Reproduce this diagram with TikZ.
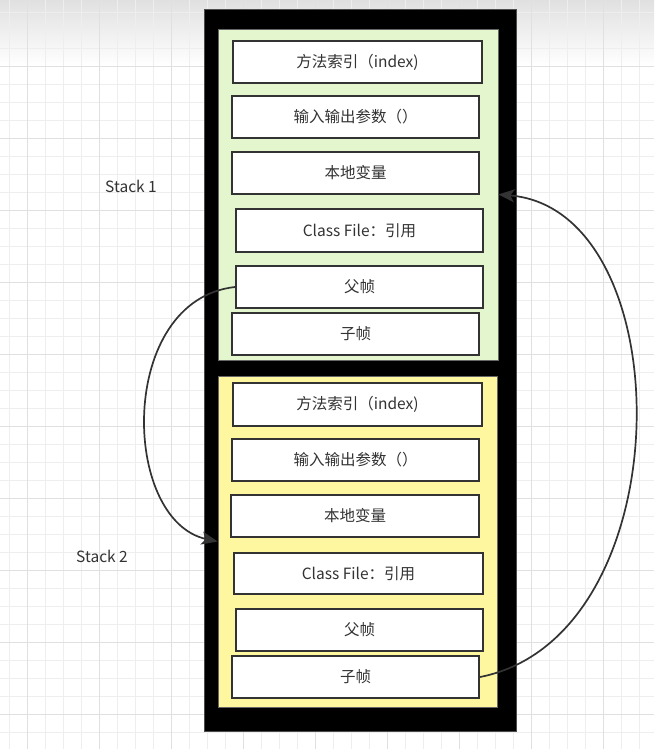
\documentclass[tikz,border=0pt]{standalone}
\usepackage{fontspec}
\setmainfont{Noto Sans CJK SC}
\usetikzlibrary{arrows.meta,positioning}
\definecolor{txt}{HTML}{333333}
\definecolor{gridminor}{HTML}{EEEEEE}
\definecolor{gridmajor}{HTML}{E0E0E0}
\definecolor{greenfill}{HTML}{E3F6CD}
\definecolor{yellowfill}{HTML}{FFF6A0}
\tikzset{
  framebox/.style={draw=txt, line width=2pt, fill=white, text=txt, font=\fontsize{15.5}{17}\selectfont, inner sep=0pt},
  stacklabel/.style={text=txt, font=\fontsize{15.5}{17}\selectfont, inner sep=0pt},
  link/.style={draw=txt, line width=1.7pt, -{Stealth[length=16pt,width=13pt,inset=4pt]}},
}
\newcommand{\fbx}[6]{% name, x1, y1, x2, y2, text
  \node[framebox, minimum width={#4-#2}, minimum height={#5-#3}] (#1) at ({(#2+#4)/2},{(#3+#5)/2}) {#6};}
\begin{document}
\begin{tikzpicture}[x=1pt,y=-1pt]
\useasboundingbox (0,0) rectangle (654,749);
% background
\fill[white] (0,0) rectangle (654,749);
\shade[top color=black!12, bottom color=white] (0,0) rectangle (654,66);
\foreach \k in {0,...,36} \draw[gridminor, line width=0.8pt] ({9.3+18*\k},0) -- ({9.3+18*\k},749);
\foreach \k in {0,...,41} \draw[gridminor, line width=0.8pt] (0,{12.3+18*\k}) -- (654,{12.3+18*\k});
\foreach \k in {0,...,8} \draw[gridmajor, line width=0.8pt] ({27.3+72*\k},0) -- ({27.3+72*\k},749);
\foreach \k in {0,...,9} \draw[gridmajor, line width=0.8pt] (0,{66+72*\k}) -- (654,{66+72*\k});
% outer black frame
\node[draw=black!70, fill=black, line width=1pt, inner sep=0pt, minimum width=312, minimum height=722] (outer) at (360.5,370.5) {};
% stack panels
\node[draw=black!60, fill=greenfill, line width=0.8pt, inner sep=0pt, minimum width=280, minimum height=331] (green) at (358,194.5) {};
\node[draw=black!60, fill=yellowfill, line width=0.8pt, inner sep=0pt, minimum width=279, minimum height=331] (yellow) at (357.5,541.5) {};
% stack 1 frames
\fbx{a1}{233}{41}{482}{83}{方法索引（index)}
\fbx{a2}{232}{96}{479}{138}{输入输出参数（）}
\fbx{a3}{232}{152}{479}{194}{本地变量}
\fbx{a4}{236}{209}{483}{252}{Class File：引用}
\fbx{a5}{236}{266}{483}{308}{父帧}
\fbx{a6}{232}{313}{479}{355}{子帧}
% stack 2 frames
\fbx{b1}{233}{383}{482}{426}{方法索引（index)}
\fbx{b2}{232}{439}{479}{481}{输入输出参数（）}
\fbx{b3}{231}{495}{479}{537}{本地变量}
\fbx{b4}{234}{553}{483}{594}{Class File：引用}
\fbx{b5}{236}{609}{483}{651}{父帧}
\fbx{b6}{232}{656}{479}{698}{子帧}
% labels
\node[stacklabel] (l1) at (131,186) {Stack 1};
\node[stacklabel] (l2) at (102,556) {Stack 2};
% connectors
\draw[link] (a5.west) .. controls +(-118,13) and +(-97,-21) .. (yellow.west);
\draw[link] (b6.east) .. controls +(204,-40) and +(185,15) .. (green.east);
\end{tikzpicture}
\end{document}
